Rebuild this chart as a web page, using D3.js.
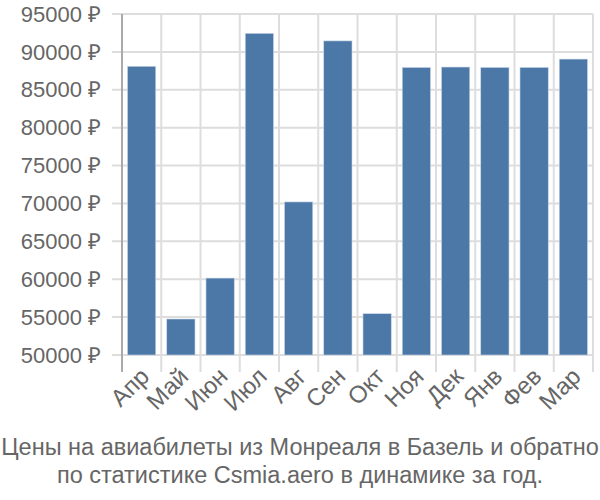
<!DOCTYPE html>
<html><head><meta charset="utf-8">
<script src="https://cdn.jsdelivr.net/npm/d3@7"></script>
<style>body{margin:0;background:#fff}svg{display:block}text{font-family:"Liberation Sans",Arial,sans-serif}</style>
</head><body>
<svg id="c" width="600" height="500"></svg>
<script>
const months = ["Апр","Май","Июн","Июл","Авг","Сен","Окт","Ноя","Дек","Янв","Фев","Мар"];
const prices = [88100, 54750, 60150, 92450, 70200, 91450, 55450, 87950, 88000, 87950, 87950, 89050];
const yTicks = [50000,55000,60000,65000,70000,75000,80000,85000,90000,95000];
const titleLines = ["Цены на авиабилеты из Монреаля в Базель и обратно","по статистике Csmia.aero в динамике за год."];

(function () {
const svg = d3.select("#c");
const pl = 122, pr = 593, pt = 14, pb = 355;
const x = d3.scaleBand().domain(months).range([pl, pr]).paddingInner(0.28).paddingOuter(0.14);
const xb = d3.scaleBand().domain(months).range([pl, pr]);
const y = d3.scaleLinear().domain([50000, 95000]).range([pb, pt]);

svg.append("g").selectAll("line").data(yTicks).join("line")
  .attr("x1", pl - 10).attr("x2", pr).attr("y1", d => y(d)).attr("y2", d => y(d))
  .attr("stroke", "#ddd").attr("stroke-width", 2);
const vb = months.map(m => xb(m)).concat([pr]);
svg.append("g").selectAll("line").data(vb.slice(1)).join("line")
  .attr("x1", d => d).attr("x2", d => d).attr("y1", pt).attr("y2", pb + 17)
  .attr("stroke", "#ddd").attr("stroke-width", 2);
svg.append("line").attr("x1", pl).attr("x2", pl).attr("y1", pt).attr("y2", pb + 17)
  .attr("stroke", "#aaa").attr("stroke-width", 2);

svg.append("g").selectAll("rect").data(months).join("rect")
  .attr("x", d => x(d)).attr("width", x.bandwidth())
  .attr("y", (d, i) => y(prices[i])).attr("height", (d, i) => y(50000) - y(prices[i]))
  .attr("fill", "#4c78a8").attr("stroke", "#c9d6e6").attr("stroke-width", 0.6);

svg.append("g").selectAll("text").data(yTicks).join("text")
  .attr("x", 101).attr("y", d => y(d)).attr("dy", "0.35em").attr("text-anchor", "end")
  .attr("font-size", 22).attr("fill", "#666").text(d => d + " ₽");

svg.append("g").selectAll("text").data(months).join("text")
  .attr("transform", d => `translate(${xb(d) + xb.bandwidth() / 2 + 3},${pb + 17}) rotate(-45)`)
  .attr("text-anchor", "end").attr("dy", "0.35em")
  .attr("font-size", 24).attr("fill", "#666").text(d => d);

svg.append("g").selectAll("text").data(titleLines).join("text")
  .attr("x", 300).attr("y", (d, i) => 455 + i * 28).attr("text-anchor", "middle")
  .attr("font-size", 23.5).attr("fill", "#666").text(d => d);
})();
</script>
</body></html>
